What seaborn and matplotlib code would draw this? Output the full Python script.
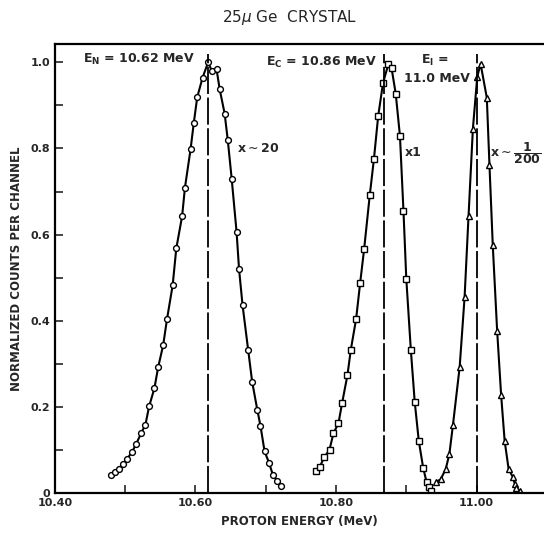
import pandas as pd
import matplotlib
matplotlib.use('Agg')
import matplotlib.pyplot as plt
import seaborn as sns

# Dados (energia em MeV, contagens normalizadas)
energia_n = [10.4795, 10.485, 10.491, 10.497, 10.503, 10.510, 10.5156, 10.523, 10.5288, 10.534,
             10.5415, 10.547, 10.554, 10.5595, 10.5675, 10.5727, 10.581, 10.585, 10.593, 10.5975,
             10.6025, 10.610, 10.618, 10.6235, 10.630, 10.6345, 10.6415, 10.646, 10.6515, 10.6585,
             10.662, 10.667, 10.675, 10.6807, 10.688, 10.6925, 10.6983, 10.7049, 10.710, 10.7158, 10.722]
contagens_n = [0.043, 0.049, 0.056, 0.067, 0.080, 0.096, 0.114, 0.140, 0.159, 0.201,
               0.243, 0.293, 0.343, 0.404, 0.482, 0.568, 0.643, 0.709, 0.798, 0.858,
               0.919, 0.964, 1.000, 0.979, 0.984, 0.937, 0.881, 0.819, 0.730, 0.606,
               0.520, 0.436, 0.332, 0.258, 0.193, 0.156, 0.097, 0.069, 0.043, 0.029, 0.016]

energia_c = [10.771, 10.7766, 10.7833, 10.7908, 10.7964, 10.8035, 10.8088, 10.8163, 10.8211, 10.8286,
             10.8343, 10.840, 10.848, 10.854, 10.860, 10.867, 10.8744, 10.879, 10.885, 10.891,
             10.896, 10.900, 10.9065, 10.912, 10.9178, 10.924, 10.9288, 10.933, 10.935]
contagens_c = [0.050, 0.060, 0.083, 0.101, 0.139, 0.162, 0.210, 0.274, 0.333, 0.404,
               0.487, 0.566, 0.691, 0.776, 0.875, 0.953, 0.995, 0.987, 0.927, 0.829,
               0.655, 0.498, 0.332, 0.212, 0.121, 0.059, 0.026, 0.014, 0.005]

energia_i = [10.9429, 10.949, 10.956, 10.9613, 10.9665, 10.976, 10.983, 10.9886, 10.9948, 11.001,
             11.0057, 11.0146, 11.0184, 11.0231, 11.0293, 11.035, 11.040, 11.0457, 11.0514, 11.0543,
             11.0567, 11.0614]
contagens_i = [0.026, 0.032, 0.055, 0.090, 0.159, 0.293, 0.455, 0.643, 0.846, 0.966,
               0.997, 0.918, 0.761, 0.575, 0.377, 0.227, 0.121, 0.055, 0.038, 0.022,
               0.011, 0.005]

# Energias dos picos (linhas tracejadas)
picos = [10.618, 10.869, 11.0]

sns.set_style('white')
plt.rcParams['font.family'] = ['DejaVu Sans']
plt.rcParams['mathtext.fontset'] = 'dejavusans'

fig = plt.figure(figsize=(5.44, 5.33), dpi=100)
ax = fig.add_axes([0.101, 0.075, 0.899, 0.842])

estilo = dict(color='black', linewidth=1.5, markerfacecolor='white',
              markeredgecolor='black', markeredgewidth=1.0, markersize=4.2)
sns.lineplot(x=energia_n, y=contagens_n, marker='o', ax=ax, **estilo)
sns.lineplot(x=energia_c, y=contagens_c, marker='s', ax=ax, **estilo)
sns.lineplot(x=energia_i, y=contagens_i, marker='^', ax=ax, **estilo)

ax.vlines(picos, 0, 1.02, colors='black', linewidth=1.3, linestyles=(0, (15, 2)))

ax.set_xlim(10.40, 11.096)
ax.set_ylim(0, 1.042)
ax.set_xticks([10.40, 10.60, 10.80, 11.00])
ax.set_xticklabels(['10.40', '10.60', '10.80', '11.00'])
ax.set_xticks([10.50, 10.70, 10.90], minor=True)
ax.set_yticks([0, 0.2, 0.4, 0.6, 0.8, 1.0])
ax.set_yticklabels(['0', '0.2', '0.4', '0.6', '0.8', '1.0'])
ax.set_yticks([0.1, 0.3, 0.5, 0.7, 0.9], minor=True)
ax.tick_params(which='both', direction='in', length=6, width=1.2,
               labelsize=8, top=False, right=False, bottom=True, left=True)
for lab in ax.get_xticklabels() + ax.get_yticklabels():
    lab.set_fontweight('bold')

for lado in ['left', 'bottom', 'top']:
    ax.spines[lado].set_linewidth(1.6)
    ax.spines[lado].set_color('black')
ax.spines['right'].set_visible(False)

ax.set_xlabel('PROTON ENERGY (MeV)', fontsize=8.5, fontweight='bold', labelpad=5)
ax.set_ylabel('NORMALIZED COUNTS PER CHANNEL', fontsize=8.5, fontweight='bold', labelpad=5)

# Anotações dos picos
txt = dict(fontsize=9, fontweight='bold', va='center')
ax.text(10.4405, 1.007, r'E$_\mathbf{N}$ = 10.62 MeV', ha='left', **txt)
ax.text(10.6586, 0.80, r'x$\sim$20', ha='left', **txt)
ax.text(10.6997, 1.0, r'E$_\mathbf{C}$ = 10.86 MeV', ha='left', **txt)
ax.text(10.898, 0.79, 'x1', ha='left', **txt)
ax.text(10.9405, 1.005, r'E$_\mathbf{I}$ =', ha='center', **txt)
ax.text(10.990, 0.963, '11.0 MeV', ha='right', **txt)
ax.text(11.0198, 0.79, r'x$\sim\dfrac{\mathbf{1}}{\mathbf{200}}$', ha='left', fontsize=9, fontweight='bold', va='center')

fig.text(0.533, 0.967, r'25$\mu$ Ge  CRYSTAL', ha='center', va='center', fontsize=11)

fig.savefig('out.png', dpi=100)
